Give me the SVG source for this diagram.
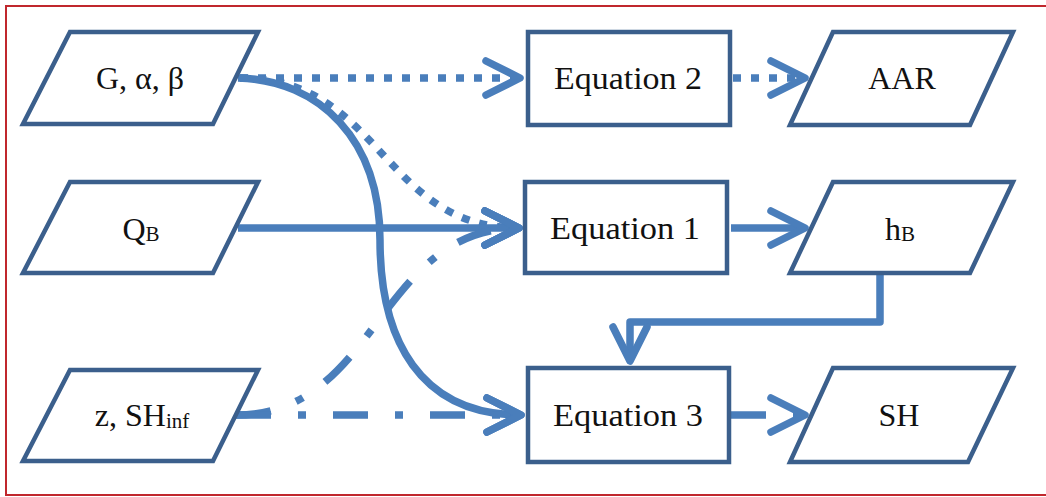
<svg xmlns="http://www.w3.org/2000/svg" width="1046" height="497" viewBox="0 0 1046 497">
<style>
.box{fill:#ffffff;stroke:#3B5F8C;stroke-width:4.5;stroke-linejoin:miter}
.lbl{font-family:"Liberation Serif","Times New Roman",serif;font-size:32px;fill:#111111;text-anchor:middle}
.sub{font-size:21px}
.c{fill:none;stroke:#4A7EBB;stroke-width:7.5}
.solid{stroke-linejoin:round}
.dot{stroke-dasharray:8 10}
.dashdot{stroke-dasharray:35 27 8 27}
</style>
<defs>
<marker id="arr" markerUnits="userSpaceOnUse" viewBox="-44 -24 52 48" markerWidth="52" markerHeight="48" refX="0" refY="0" orient="auto" overflow="visible">
<path d="M-34,-17 L0,0 L-34,17" fill="none" stroke="#4A7EBB" stroke-width="7.5" stroke-linecap="round" stroke-linejoin="round"/>
</marker>
</defs>
<rect x="6" y="6" width="1050" height="489" fill="#ffffff" stroke="#C0272D" stroke-width="2"/>

<g id="connectors">
<path class="c dot" d="M240,78 L520,78" marker-end="url(#arr)"/>
<path class="c dot" d="M733,78 L805,78" marker-end="url(#arr)"/>
<path class="c dot" d="M240,78 C382,78 382,228 519,228" marker-end="url(#arr)"/>
<path class="c solid" d="M238,78 C320,80 380,140 380,240 C380,340 420,415 521,415" marker-end="url(#arr)"/>
<path class="c solid" d="M238,228 L519,228" marker-end="url(#arr)"/>
<path class="c dashdot" d="M236,415 C378,415 378,228 519,228" marker-end="url(#arr)"/>
<path class="c dashdot" d="M236,415 L521,415" marker-end="url(#arr)"/>
<path class="c solid" d="M731,228 L805,228" marker-end="url(#arr)"/>
<path class="c solid" d="M880,275 L880,322 L630,322 L630,361" marker-end="url(#arr)"/>
<path class="c dashdot" d="M731,415 L805,415" marker-end="url(#arr)"/>
</g>

<g id="n-gab">
<polygon class="box" points="70,32 258,32 213,124 23,124"/>
<text class="lbl" x="140" y="89">G, α, β</text>
</g>
<g id="n-qb">
<polygon class="box" points="70,182 258,182 213,273 23,273"/>
<text class="lbl" x="141" y="240">Q<tspan class="sub" dy="1">B</tspan></text>
</g>
<g id="n-zsh">
<polygon class="box" points="70,370 258,370 213,461 23,461"/>
<text class="lbl" x="142" y="426">z, SH<tspan class="sub" dy="2">inf</tspan></text>
</g>
<g id="n-eq2">
<rect class="box" x="528" y="32" width="202" height="93"/>
<text class="lbl" x="628" y="89" textLength="148" lengthAdjust="spacingAndGlyphs">Equation 2</text>
</g>
<g id="n-eq1">
<rect class="box" x="525" y="182" width="202" height="91"/>
<text class="lbl" x="625" y="239" textLength="150" lengthAdjust="spacingAndGlyphs">Equation 1</text>
</g>
<g id="n-eq3">
<rect class="box" x="528" y="368" width="201" height="94"/>
<text class="lbl" x="628" y="426" textLength="150" lengthAdjust="spacingAndGlyphs">Equation 3</text>
</g>
<g id="n-aar">
<polygon class="box" points="833,32 1013,32 970,125 790,125"/>
<text class="lbl" x="902" y="89">AAR</text>
</g>
<g id="n-hb">
<polygon class="box" points="833,182 1013,182 970,273 790,273"/>
<text class="lbl" x="900" y="240">h<tspan class="sub" dy="1">B</tspan></text>
</g>
<g id="n-sh">
<polygon class="box" points="833,368 1013,368 968,462 790,462"/>
<text class="lbl" x="899" y="426">SH</text>
</g>
</svg>
